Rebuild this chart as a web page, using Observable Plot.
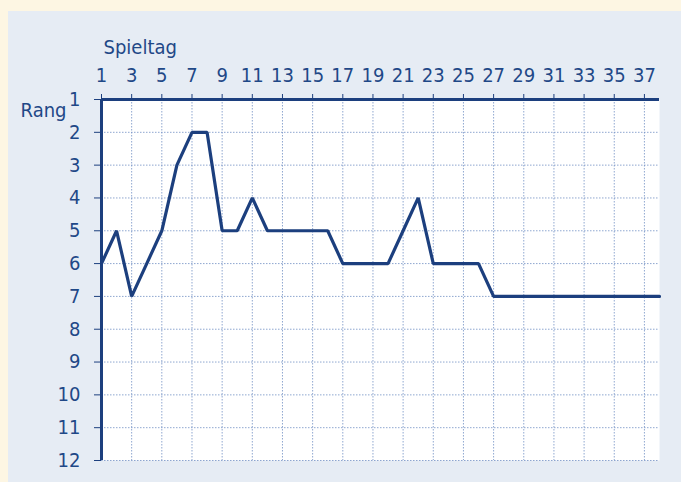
<!DOCTYPE html>
<html><head><meta charset="utf-8">
<script src="https://cdn.jsdelivr.net/npm/d3@7"></script>
<script src="https://cdn.jsdelivr.net/npm/@observablehq/plot@0.6"></script>
<style>
html,body{margin:0;padding:0;background:#fdf6e3;width:681px;height:482px;overflow:hidden;}
#panel{position:absolute;left:8px;top:11px;width:673px;height:471px;background:#e6ecf4;}
#panel svg{display:block;}
</style></head><body><div id="panel"></div>
<script>
const spieltag = [1,2,3,4,5,6,7,8,9,10,11,12,13,14,15,16,17,18,19,20,21,22,23,24,25,26,27,28,29,30,31,32,33,34,35,36,37,38];
const rang     = [6,5,7,6,5,3,2,2,5,5,4,5,5,5,5,5,6,6,6,6,5,4,6,6,6,6,7,7,7,7,7,7,7,7,7,7,7,7];
const xTicks = [1,3,5,7,9,11,13,15,17,19,21,23,25,27,29,31,33,35,37];
const yTicks = [1,2,3,4,5,6,7,8,9,10,11,12];
const xLabel = "Spieltag";
const yLabel = "Rang";

const data = spieltag.map((d, i) => ({spieltag: d, rang: rang[i]}));
const blue = "#1c3f7e", textc = "#1f4887", gridc = "#7391c4";
const font = '"DejaVu Sans Condensed", "DejaVu Sans", sans-serif';
const fs = 20;

const chart = Plot.plot({
  width: 673, height: 471,
  marginLeft: 93, marginTop: 88, marginRight: 22, marginBottom: 22,
  style: {background: "transparent", color: textc, fontFamily: font, fontStretch: "condensed"},
  x: {domain: [1, 38]},
  y: {domain: [1, 12], reverse: true},
  marks: [
    Plot.frame({fill: "white", stroke: null}),
    Plot.gridX(xTicks.slice(1), {stroke: gridc, strokeOpacity: 0.8, strokeDasharray: "1.5,1.5"}),
    Plot.gridY(yTicks.slice(1), {stroke: gridc, strokeOpacity: 0.8, strokeDasharray: "1.5,1.5"}),
    Plot.axisX(xTicks, {anchor: "top", tickSize: 6, tickPadding: 12, label: null, stroke: blue, fill: textc, fontSize: fs}),
    Plot.axisY(yTicks, {anchor: "left", tickSize: 7, tickPadding: 14, label: null, stroke: blue, fill: textc, fontSize: fs}),
    Plot.ruleY([1], {stroke: blue, strokeWidth: 3}),
    Plot.ruleX([1], {stroke: blue, strokeWidth: 3}),
    Plot.line(data, {x: "spieltag", y: "rang", stroke: blue, strokeWidth: 3.2, strokeLinejoin: "miter"}),
    Plot.text([xLabel], {frameAnchor: "top-left", text: d => d, textAnchor: "start", dx: 2, dy: -60, fill: textc, fontSize: fs}),
    Plot.text([yLabel], {frameAnchor: "top-left", text: d => d, textAnchor: "end", dx: -35, dy: 3, fill: textc, fontSize: fs})
  ]
});
document.getElementById("panel").appendChild(chart);
</script>
</body></html>
